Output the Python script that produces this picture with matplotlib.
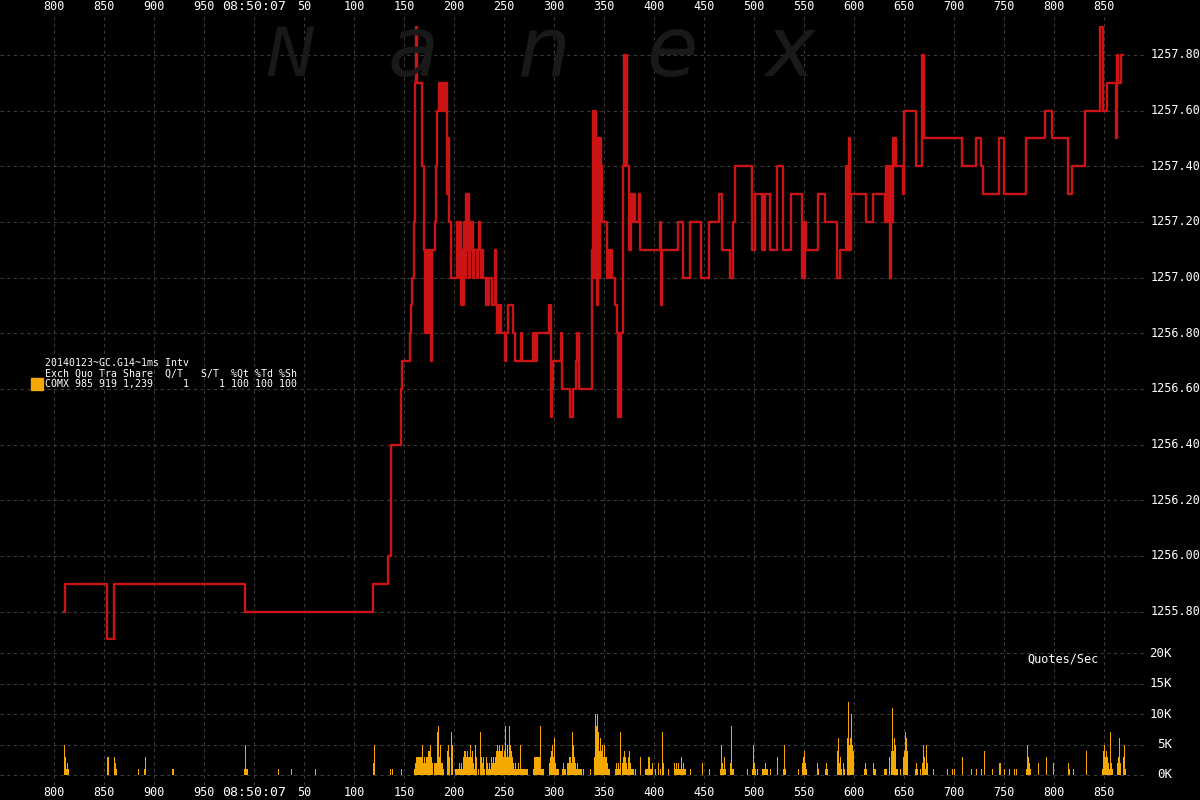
import matplotlib
matplotlib.use("Agg")
import matplotlib.pyplot as plt
from matplotlib.transforms import blended_transform_factory as blend

# time in ms relative to 08:50:07.000, price of each step (step starts at t)
price_t = [-190, -189, -147, -140, -9, 119, 134, 137, 147, 148, 156, 157, 158, 160, 161, 162, 163,
           168, 170, 171, 172, 173, 174, 175, 176, 177, 178, 181, 182, 183, 185, 186, 187, 188,
           189, 190, 192, 193, 194, 195, 197, 203, 205, 206, 207, 208, 209, 210, 211, 212, 213,
           214, 215, 216, 217, 218, 219, 220, 223, 224, 225, 226, 227, 228, 229, 232, 233, 234,
           235, 238, 241, 242, 243, 244, 245, 246, 247, 251, 252, 254, 259, 261, 267, 268, 279,
           280, 281, 282, 283, 295, 297, 298, 299, 307, 308, 316, 319, 322, 323, 325, 338, 339,
           340, 341, 342, 343, 344, 345, 346, 347, 348, 353, 354, 355, 356, 358, 361, 363, 364,
           365, 366, 367, 369, 370, 371, 372, 373, 375, 377, 378, 379, 381, 385, 386, 406, 407,
           408, 424, 429, 436, 447, 455, 465, 468, 476, 479, 481, 498, 501, 508, 509, 510, 511,
           516, 523, 529, 537, 548, 549, 550, 551, 552, 564, 571, 583, 586, 592, 593, 595, 596,
           597, 612, 619, 631, 632, 633, 634, 635, 636, 637, 638, 639, 640, 641, 642, 649, 650,
           662, 668, 670, 708, 722, 727, 729, 745, 750, 772, 791, 798, 814, 818, 831, 846, 849,
           853, 862, 863, 864, 867, 869]
price_v = [1255.80, 1255.90, 1255.70, 1255.90, 1255.80, 1255.90, 1256.00, 1256.40, 1256.60, 1256.70,
           1256.80, 1256.90, 1257.00, 1257.20, 1257.70, 1257.90, 1257.70, 1257.40, 1257.10, 1256.80,
           1257.10, 1256.80, 1257.10, 1256.80, 1257.10, 1256.70, 1257.10, 1257.20, 1257.40, 1257.60,
           1257.70, 1257.60, 1257.70, 1257.60, 1257.70, 1257.60, 1257.70, 1257.30, 1257.50, 1257.20,
           1257.00, 1257.20, 1257.00, 1257.20, 1256.90, 1257.10, 1256.90, 1257.20, 1257.00, 1257.30,
           1257.10, 1257.30, 1257.00, 1257.20, 1257.10, 1257.20, 1257.00, 1257.10, 1257.00, 1257.10,
           1257.20, 1257.10, 1257.00, 1257.10, 1257.00, 1256.90, 1257.00, 1256.90, 1257.00, 1256.90,
           1257.10, 1256.90, 1256.80, 1256.90, 1256.80, 1256.90, 1256.80, 1256.70, 1256.80, 1256.90,
           1256.80, 1256.70, 1256.80, 1256.70, 1256.80, 1256.70, 1256.80, 1256.70, 1256.80, 1256.90,
           1256.50, 1256.60, 1256.70, 1256.80, 1256.60, 1256.50, 1256.60, 1256.70, 1256.80, 1256.60,
           1257.10, 1257.60, 1257.00, 1257.60, 1257.20, 1256.90, 1257.50, 1257.00, 1257.50, 1257.40,
           1257.20, 1257.00, 1257.10, 1257.00, 1257.10, 1257.00, 1256.90, 1256.80, 1256.50, 1256.80,
           1256.50, 1256.80, 1257.40, 1257.80, 1257.40, 1257.80, 1257.40, 1257.10, 1257.30, 1257.20,
           1257.30, 1257.20, 1257.30, 1257.10, 1257.20, 1256.90, 1257.10, 1257.20, 1257.00, 1257.20,
           1257.00, 1257.20, 1257.30, 1257.10, 1257.00, 1257.20, 1257.40, 1257.10, 1257.30, 1257.10,
           1257.30, 1257.10, 1257.30, 1257.10, 1257.40, 1257.10, 1257.30, 1257.00, 1257.20, 1257.00,
           1257.20, 1257.10, 1257.30, 1257.20, 1257.00, 1257.10, 1257.40, 1257.10, 1257.50, 1257.10,
           1257.30, 1257.20, 1257.30, 1257.20, 1257.40, 1257.20, 1257.40, 1257.20, 1257.00, 1257.40,
           1257.20, 1257.50, 1257.40, 1257.50, 1257.40, 1257.30, 1257.60, 1257.40, 1257.80, 1257.50,
           1257.40, 1257.50, 1257.40, 1257.30, 1257.50, 1257.30, 1257.50, 1257.60, 1257.50, 1257.30,
           1257.40, 1257.60, 1257.90, 1257.60, 1257.70, 1257.50, 1257.80, 1257.70, 1257.80, 1257.80]

# quotes per second (thousands) in 1 ms buckets
vol_t = [-190, -189, -188, -187, -186, -147, -146, -140, -139, -138, -116, -110, -109, -82, -81,
         -10, -9, -8, -7, 24, 37, 61, 119, 120, 136, 138, 147,
         160, 161, 162, 163, 164, 165, 166, 167, 168, 169, 170, 171, 172, 173, 174, 175, 176, 177, 178,
         180, 181, 182, 183, 184, 185, 186, 187, 188, 189, 193, 194, 195, 197, 198,
         201, 202, 203, 204, 205, 206, 207, 208, 209, 210, 211, 212, 213, 214, 215, 216, 217, 218,
         219, 220, 221, 222, 224, 226, 227, 228, 229, 230, 232, 233, 234, 235, 236, 237, 238, 239,
         240, 241, 242, 243, 244, 245, 246, 247, 248, 249, 250, 251, 252, 253, 254, 255, 256, 257,
         258, 259, 260, 261, 262, 263, 264, 265, 266, 267, 268, 269, 270, 271, 272, 273,
         279, 280, 281, 282, 283, 284, 285, 286, 287, 288, 289, 295, 296, 297, 298, 299, 300, 301,
         302, 303, 304, 308, 309, 310, 311, 313, 314, 315, 316, 317, 318, 319, 320, 321, 322, 323,
         324, 325, 326, 327, 329, 336, 340, 341, 342, 343, 344, 345, 346, 347, 348, 349, 350, 351,
         352, 353, 354, 355, 361, 362, 363, 364, 365, 366, 368, 369, 370, 371, 372, 373, 374, 375,
         376, 377, 378, 379, 381, 386, 391, 392, 393, 394, 395, 396, 397, 398, 401, 404, 406, 408,
         409, 414, 420, 421, 422, 423, 424, 425, 426, 427, 428, 429, 430, 431, 436, 448, 455, 466,
         467, 468, 469, 470, 471, 476, 477, 478, 479, 493, 498, 499, 500, 501, 503, 508, 509, 510,
         511, 512, 513, 516, 523, 529, 530, 531, 544, 548, 549, 550, 551, 552, 563, 564, 571, 572,
         573, 583, 584, 585, 586, 587, 589, 590, 593, 594, 595, 596, 597, 598, 599, 610, 611, 612,
         619, 620, 621, 630, 631, 632, 635, 637, 638, 639, 640, 641, 642, 643, 646, 649, 650, 651,
         652, 653, 661, 662, 663, 666, 668, 669, 670, 671, 672, 673, 679, 693, 698, 700, 708, 717,
         722, 727, 730, 738, 745, 746, 750, 755, 760, 762, 772, 773, 774, 775, 776, 784, 792, 799,
         814, 815, 819, 832, 848, 849, 850, 851, 852, 853, 854, 855, 856, 857, 858, 863, 864, 865,
         866, 869, 870, 871]
vol_k = [5, 3, 1, 2, 1, 3, 3, 3, 2, 1, 1, 1, 3, 1, 1,
         1, 5, 1, 1, 1, 1, 1, 2, 5, 1, 1, 1,
         1, 2, 3, 3, 3, 3, 3, 3, 5, 2, 3, 2, 3, 3, 4, 4, 5, 3, 2,
         2, 2, 2, 7, 8, 3, 5, 2, 2, 1, 4, 5, 3, 7, 5,
         1, 1, 1, 1, 2, 1, 2, 1, 3, 4, 4, 3, 4, 3, 3, 5, 3, 4,
         2, 1, 5, 3, 1, 7, 3, 2, 3, 1, 3, 2, 1, 2, 1, 3, 2, 3,
         2, 3, 4, 5, 4, 5, 4, 4, 5, 3, 4, 8, 3, 5, 3, 8, 5, 4,
         3, 2, 1, 2, 1, 1, 2, 1, 5, 1, 1, 1, 1, 1, 1, 1,
         1, 3, 3, 3, 3, 3, 3, 8, 1, 1, 1, 2, 3, 4, 5, 3, 6, 2,
         1, 1, 1, 1, 2, 1, 1, 2, 2, 3, 3, 2, 7, 5, 3, 2, 1, 2,
         1, 1, 1, 1, 1, 1, 3, 10, 8, 10, 7, 4, 6, 4, 5, 3, 5, 3,
         3, 2, 1, 1, 1, 2, 1, 2, 1, 7, 2, 3, 4, 3, 2, 1, 3, 4,
         2, 1, 1, 1, 1, 3, 1, 1, 1, 3, 3, 1, 1, 2, 1, 2, 1, 7,
         2, 1, 2, 1, 2, 1, 2, 1, 1, 3, 1, 2, 1, 1, 1, 2, 1, 1,
         5, 2, 1, 3, 1, 2, 8, 1, 1, 1, 1, 5, 2, 1, 1, 1, 1, 1,
         2, 1, 1, 1, 3, 1, 5, 1, 1, 2, 3, 4, 2, 1, 2, 1, 1, 2,
         1, 4, 6, 2, 3, 1, 2, 1, 6, 12, 5, 6, 10, 5, 4, 1, 2, 1,
         2, 1, 1, 1, 1, 1, 3, 4, 11, 4, 6, 5, 1, 1, 1, 3, 4, 7,
         6, 4, 1, 2, 1, 1, 2, 5, 3, 1, 5, 2, 1, 1, 1, 1, 3, 1,
         1, 1, 4, 1, 2, 2, 1, 1, 1, 1, 1, 5, 3, 2, 1, 2, 3, 2,
         2, 1, 1, 4, 1, 4, 5, 3, 4, 3, 2, 1, 7, 2, 1, 2, 3, 6,
         2, 3, 5, 1]

x_ticks = [-200, -150, -100, -50, 0, 50, 100, 150, 200, 250, 300, 350, 400, 450, 500,
           550, 600, 650, 700, 750, 800, 850]
x_labels = ["800", "850", "900", "950", "08:50:07", "50", "100", "150", "200", "250", "300",
            "350", "400", "450", "500", "550", "600", "650", "700", "750", "800", "850"]
price_ticks = [1255.80, 1256.00, 1256.20, 1256.40, 1256.60, 1256.80, 1257.00, 1257.20,
               1257.40, 1257.60, 1257.80]
vol_ticks = [0, 5, 10, 15, 20]
vol_labels = ["0K", "5K", "10K", "15K", "20K"]

legend_lines = ["20140123~GC.G14~1ms Intv",
                "Exch Quo Tra Share  Q/T   S/T  %Qt %Td %Sh",
                "COMX 985 919 1,239     1     1 100 100 100"]

RED = "#cc1414"
ORANGE = "#f5a800"
GRID = "#3a3a3a"
MONO = "DejaVu Sans Mono"
W, H = 1200, 800

fig = plt.figure(figsize=(12, 8), dpi=100, facecolor="black")
ax_p = fig.add_axes([0, 1 - 640 / H, 1145 / W, 627 / H], facecolor="black")
ax_v = fig.add_axes([0, 1 - 785 / H, 1145 / W, 145 / H], facecolor="black", sharex=ax_p)

# watermark
for ch, xc, fs in [("N", 290, 48), ("a", 413, 60), ("n", 543, 60), ("e", 672, 60), ("x", 790, 60)]:
    fig.text(xc / W, 1 - 76 / H, ch, color="#191919", fontsize=fs, style="italic",
             ha="center", va="baseline", zorder=0)

ax_p.step(price_t, price_v, where="post", color=RED, lw=1.7, zorder=3)
ax_v.bar(vol_t, vol_k, width=1.1, align="edge", color=ORANGE, linewidth=0,
         antialiased=False, zorder=3)

ax_p.set_xlim(-254, 891)
ax_p.set_ylim(1257.80 - 585 / 278.3, 1257.80 + 42 / 278.3)
ax_v.set_ylim(-10 / 6.085, 135 / 6.085)

for ax in (ax_p, ax_v):
    for s in ax.spines.values():
        s.set_visible(False)
    ax.set_xticks(x_ticks)
    ax.tick_params(length=0, labelbottom=False, labelleft=False)
    ax.grid(True, color=GRID, linestyle=(0, (3, 3)), linewidth=0.8)
    ax.set_axisbelow(True)
ax_p.set_yticks(price_ticks)
ax_v.set_yticks(vol_ticks)

# x labels top and bottom
tr_top = blend(ax_p.transData, fig.transFigure)
for t, lab in zip(x_ticks, x_labels):
    fs = 9.5 if ":" in lab else 8.5
    fig.text(t, 1 - 6 / H, lab, transform=tr_top, color="white", fontsize=fs,
             family=MONO, ha="center", va="center")
    fig.text(t, 1 - 793 / H, lab, transform=tr_top, color="white", fontsize=fs,
             family=MONO, ha="center", va="center")

# right side labels
tr_p = blend(fig.transFigure, ax_p.transData)
for p in price_ticks:
    fig.text(1151 / W, p, f"{p:.2f}", transform=tr_p, color="white", fontsize=8.5,
             family=MONO, ha="left", va="center")
tr_v = blend(fig.transFigure, ax_v.transData)
for v, lab in zip(vol_ticks, vol_labels):
    fig.text(1172 / W, v, lab, transform=tr_v, color="white", fontsize=9,
             family=MONO, ha="right", va="center")

fig.text(1027 / W, 1 - 659 / H, "Quotes/Sec", color="white", fontsize=8.5, family=MONO,
         ha="left", va="center")

# legend block
for i, line in enumerate(legend_lines):
    fig.text(45 / W, 1 - (363.5 + 10 * i) / H, line, color="white", fontsize=7.1,
             family=MONO, ha="left", va="center")
fig.patches.append(plt.Rectangle((31 / W, 1 - 390 / H), 12 / W, 12 / H,
                                 transform=fig.transFigure, color=ORANGE))

fig.savefig("out.png", dpi=100, facecolor="black")
